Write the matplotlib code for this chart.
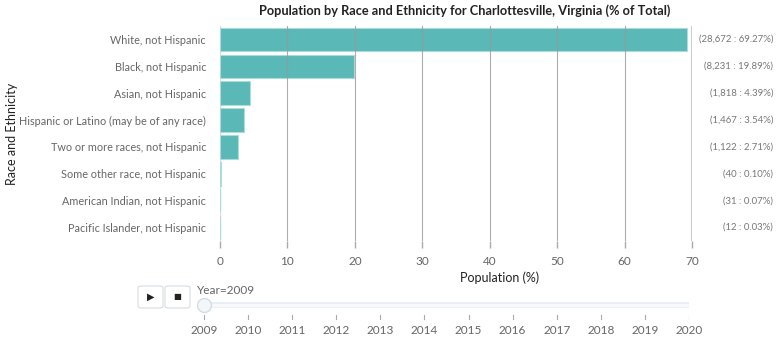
import numpy as np
import matplotlib.pyplot as plt
from matplotlib.patches import FancyBboxPatch

# Data
categories = [
    "White, not Hispanic",
    "Black, not Hispanic",
    "Asian, not Hispanic",
    "Hispanic or Latino (may be of any race)",
    "Two or more races, not Hispanic",
    "Some other race, not Hispanic",
    "American Indian, not Hispanic",
    "Pacific Islander, not Hispanic",
]
counts = [28672, 8231, 1818, 1467, 1122, 40, 31, 12]
percents = [69.27, 19.89, 4.39, 3.54, 2.71, 0.10, 0.07, 0.03]
x_ticks = [0, 10, 20, 30, 40, 50, 60, 70]
years = list(range(2009, 2021))
current_year = 2009

plt.rcParams['font.family'] = ['Lato', 'DejaVu Sans']

W, H = 780, 343
fig = plt.figure(figsize=(W / 100, H / 100), dpi=100)

def fx(px):
    return px / W

def fy(py):
    return 1 - py / H

# Main bar chart
ax = fig.add_axes([fx(220), fy(241), fx(692) - fx(220), fy(26) - fy(241)])
y = np.arange(len(categories))
ax.barh(y, percents, height=0.87, color='#5ab8b6', edgecolor='#a9dcda',
        linewidth=0.8, zorder=2)
ax.set_ylim(len(categories) - 0.5, -0.5)
ax.set_xlim(0, 70)

ax.set_xticks(x_ticks)
ax.set_xticklabels([str(t) for t in x_ticks], color='#666666', fontsize=8.5)
ax.set_yticks(y)
ax.set_yticklabels(categories, color='#666666', fontsize=7.8)
ax.tick_params(axis='y', length=0, pad=10)
ax.tick_params(axis='x', length=5, color='#aaaaaa', width=1, pad=6)

for t in x_ticks:
    if t == 0:
        ax.axvline(t, color='#dddddd', lw=1, zorder=1)
    elif t == 70:
        ax.axvline(t, color='#cccccc', lw=1.5, zorder=1)
    else:
        ax.axvline(t, color='#999999', lw=0.8, zorder=3, alpha=0.8)

for s in ax.spines.values():
    s.set_visible(False)

# Right-side annotations
for i, (c, p) in enumerate(zip(counts, percents)):
    ax.annotate(f"({c:,} : {p:.2f}%)", xy=(fx(773), i),
                xycoords=('figure fraction', 'data'),
                ha='right', va='center', fontsize=6.9, color='#777777')

fig.text(fx(465), fy(11),
         "Population by Race and Ethnicity for Charlottesville, Virginia (% of Total)",
         ha='center', va='center', fontsize=9.2, fontweight='bold', color='#222222')
fig.text(fx(500), fy(278), "Population (%)", ha='center', va='center',
         fontsize=9, color='#222222')
fig.text(fx(12), fy(134), "Race and Ethnicity", ha='center', va='center',
         rotation=90, fontsize=9, color='#222222')

# Slider
sax = fig.add_axes([fx(204), fy(340), fx(689) - fx(204), fy(290) - fy(340)])
sax.set_xlim(years[0], years[-1])
sax.set_ylim(0, 1)
sax.axis('off')
track_y = 0.7
sax.plot([years[0], years[-1]], [track_y, track_y], color='#e6ebf0',
         lw=4, solid_capstyle='round', zorder=1)
sax.plot([years[0], years[-1]], [track_y, track_y], color='#f7f9fb',
         lw=2.5, solid_capstyle='round', zorder=1)
for yr in years:
    sax.plot([yr, yr], [0.42, 0.5], color='#aaaaaa', lw=0.8)
    sax.text(yr, 0.2, str(yr), ha='center', va='center', fontsize=8.5,
             color='#666666', clip_on=False)
sax.plot([current_year], [track_y], marker='o', markersize=10,
         markerfacecolor='#f4f7fa', markeredgecolor='#d3dce4', zorder=3,
         clip_on=False)
fig.text(fx(197), fy(290), f"Year={current_year}", ha='left', va='center',
         fontsize=8.5, color='#666666')

# Play / stop buttons
for x0, glyph in [(138, '\u25B6'), (165, '\u25A0')]:
    box = FancyBboxPatch((fx(x0), fy(308)), fx(25), fy(286) - fy(308),
                         boxstyle='round,pad=0,rounding_size=0.005',
                         transform=fig.transFigure, facecolor='white',
                         edgecolor='#d6dde3', lw=0.8)
    fig.patches.append(box)
    fig.text(fx(x0 + 12.5), fy(297), glyph, ha='center', va='center',
             fontsize=6 if glyph == '\u25A0' else 7, color='#222222',
             family='DejaVu Sans')

fig.savefig('out.png', dpi=100)
